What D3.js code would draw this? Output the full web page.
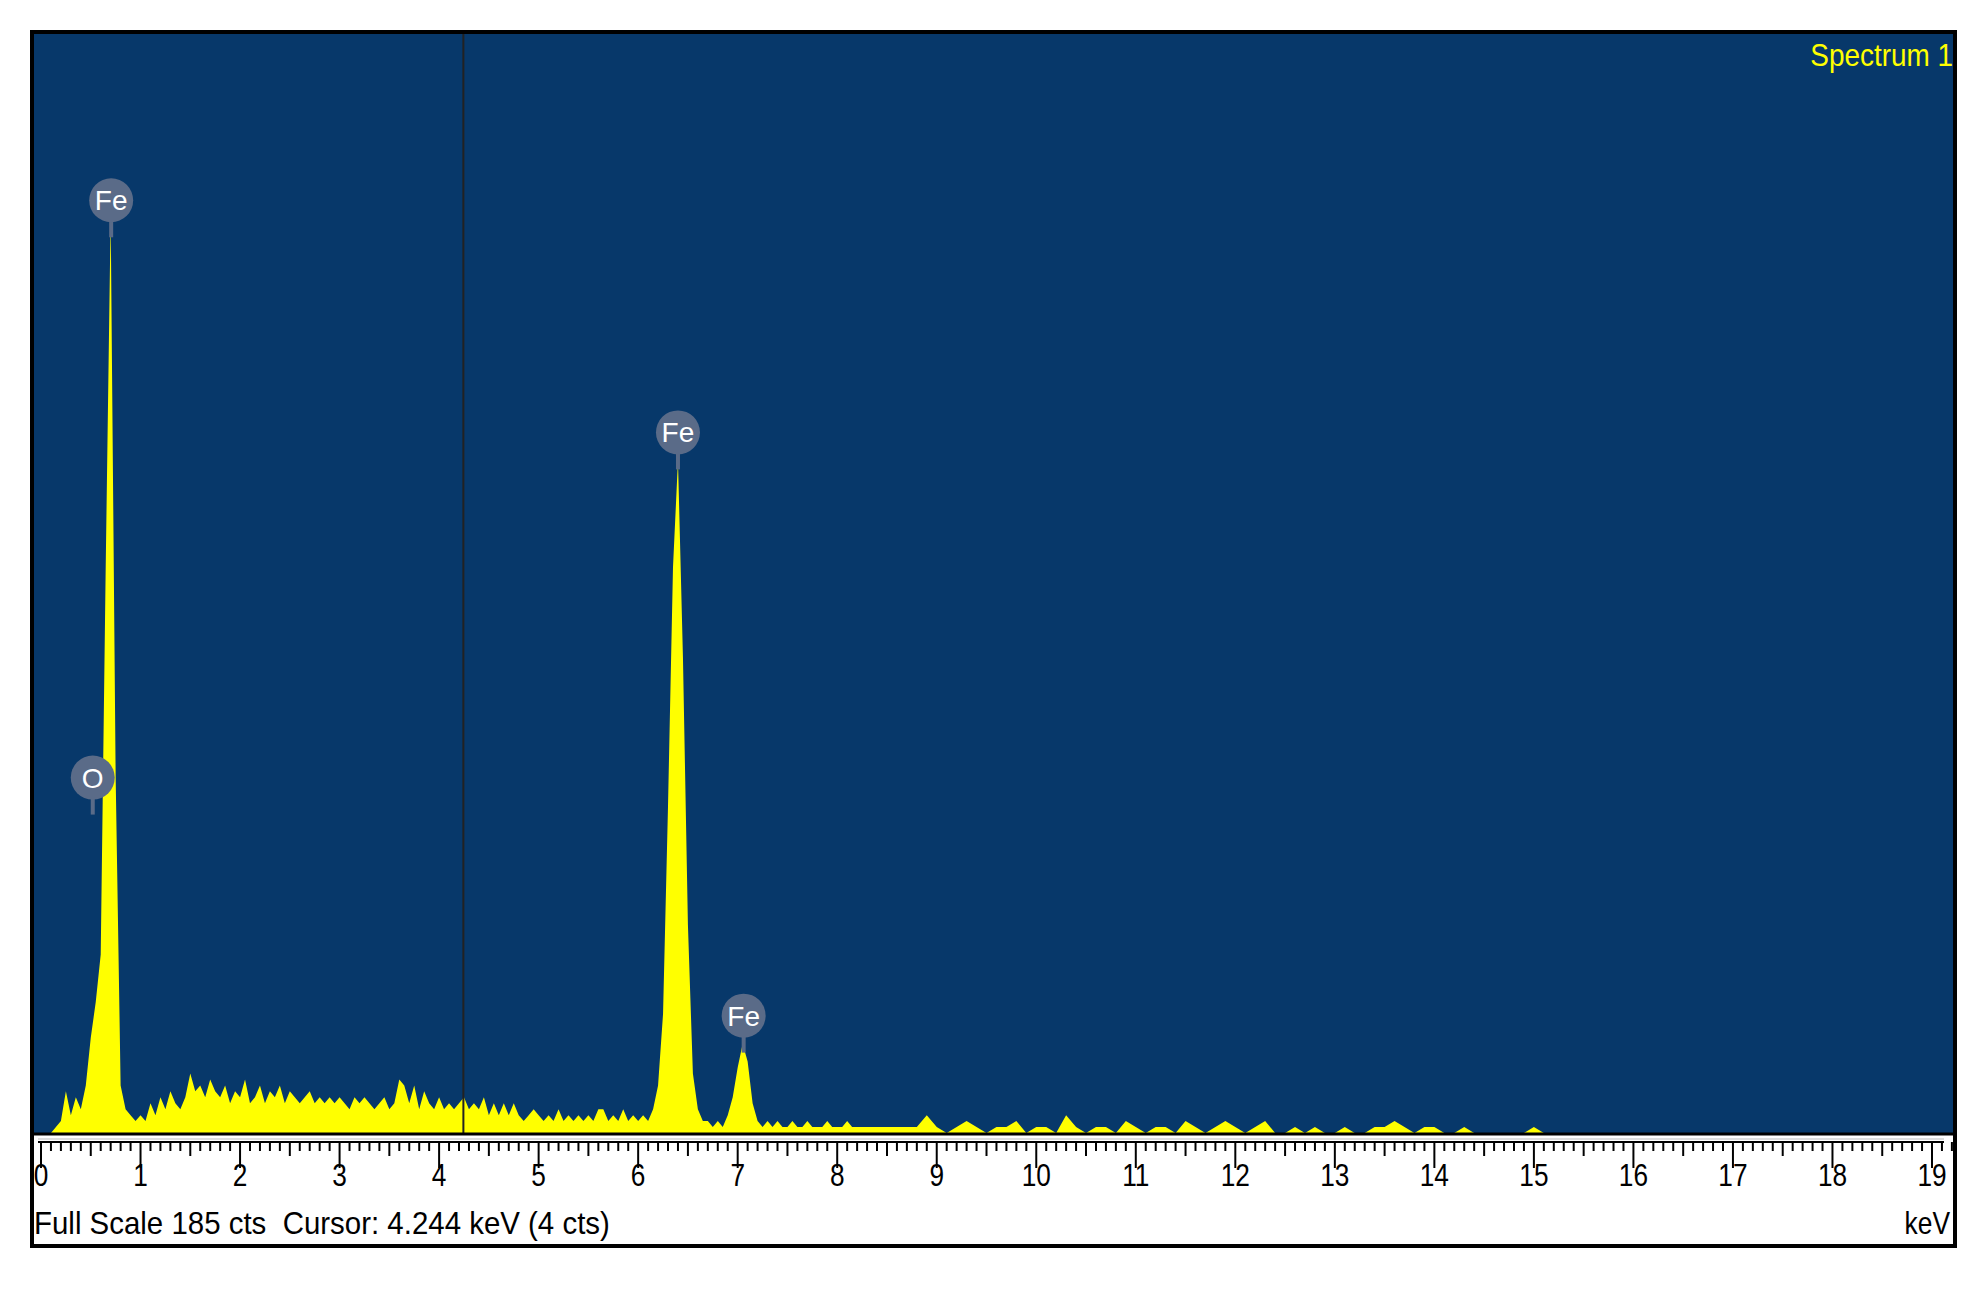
<!DOCTYPE html>
<html><head><meta charset="utf-8">
<script src="https://cdn.jsdelivr.net/npm/d3@7"></script>
<style>body{margin:0;background:#fff}</style></head>
<body><svg id="c" width="1986" height="1291"></svg>
<script>
// counts at 0.05 keV steps from 0.00 to 8.50
const lowStep = 0.05;
const lowCounts = [0,0,0,1,2,7,3,6,4,8, 16,22,30,95,154,60,8,4,3,2,
3,2,5,3,6,4,7,5,4,6, 10,7,8,6,9,7,6,8,5,7,
6,9,5,6,8,5,7,6,8,5, 7,6,5,6,7,5,6,5,6,5,
6,5,4,6,5,6,5,4,5,6, 4,5,9,8,5,8,4,7,5,4,
6,4,5,4,5,6,4,5,4,6, 3,5,3,5,3,5,3,2,3,4,
3,2,3,2,4,2,3,2,3,2, 3,2,4,4,2,3,2,4,2,3,
2,3,2,4,8,20,55,95,113,80, 35,10,4,2,2,1,2,1,3,6,
11,15,12,5,2,1,2,1,2,1, 1,2,1,1,2,1,1,1,2,1,
1,1,2,1,1,1];
// counts at 0.1 keV steps from 8.6 to 15.2
const highStart = 8.6, highStep = 0.1;
const highCounts = [1,1,1,3,1,0,1,2,1,0, 1,1,2,0,1,1,0,3,1,0,
1,1,0,2,1,0,1,1,0,2, 1,0,1,2,1,0,1,2,0,0, 1,0,1,0,0,1,0,0,1,1,
2,1,0,1,1,0,0,1,0,0, 0,0,0,0,1,0,0];
const fullScale = 185;
const cursorKeV = 4.244;
const xTicks = d3.range(0,20);
const peaks = [{el:"Fe",e:0.705,y:150},{el:"O",e:0.52,y:53},{el:"Fe",e:6.40,y:111},{el:"Fe",e:7.06,y:13}];

const data = lowCounts.map((c,i)=>({e:i*lowStep,c}))
  .concat(highCounts.map((c,i)=>({e:highStart+i*highStep,c})));

const svg = d3.select("#c");
const L=32,T=32,R=1955,B=1246, base=1133;
const x = d3.scaleLinear().domain([0,19]).range([41,1932]);
const y = d3.scaleLinear().domain([0,fullScale]).range([base,T]);

svg.append("rect").attr("x",L).attr("y",T).attr("width",R-L).attr("height",B-T).attr("fill","#fff");
svg.append("rect").attr("x",L).attr("y",T).attr("width",R-L).attr("height",base-T).attr("fill","#07386a");
svg.append("path").datum(data).attr("fill","#ffff00")
  .attr("d",d3.area().x(d=>x(d.e)).y0(base).y1(d=>y(d.c)));
svg.append("line").attr("x1",x(cursorKeV)).attr("x2",x(cursorKeV)).attr("y1",T).attr("y2",base)
  .attr("stroke","#222").attr("stroke-width",2);
svg.append("line").attr("x1",L).attr("x2",R).attr("y1",base+1).attr("y2",base+1).attr("stroke","#000").attr("stroke-width",3);

// axis
const ax = svg.append("g").attr("transform",`translate(0,${base+9})`);
ax.append("line").attr("x1",38).attr("x2",1944).attr("y1",0).attr("y2",0).attr("stroke","#000").attr("stroke-width",2);
ax.append("line").attr("x1",38).attr("x2",1944).attr("y1",-3).attr("y2",-3).attr("stroke","#bbb").attr("stroke-width",1);
const minor = d3.range(0,19.21,0.1);
ax.selectAll(".mn").data(minor).join("line")
  .attr("x1",d=>x(d)).attr("x2",d=>x(d)).attr("y1",0)
  .attr("y2",d=>{const r=Math.round(d*10)%10; return r===0?26:(r===5?14:9);})
  .attr("stroke","#000").attr("stroke-width",2);
const font="'Liberation Sans Narrow','Liberation Sans',Arial,sans-serif";
ax.selectAll(".tl").data(xTicks).join("text")
  .attr("transform",d=>`translate(${x(d)},44) scale(0.82,1)`).attr("text-anchor","middle")
  .attr("font-family",font).attr("font-size",32).text(d=>d);

svg.append("text").attr("transform","translate(34,1234) scale(0.95,1)").attr("font-family",font).attr("font-size",31)
  .attr("xml:space","preserve").style("white-space","pre")
  .text("Full Scale "+fullScale+" cts  Cursor: "+cursorKeV.toFixed(3)+" keV (4 cts)");
svg.append("text").attr("transform","translate(1950,1234) scale(0.85,1)").attr("text-anchor","end").attr("font-family",font).attr("font-size",31).text("keV");
svg.append("text").attr("transform","translate(1953,66) scale(0.9,1)").attr("text-anchor","end").attr("font-family",font).attr("font-size",31).attr("fill","#ffff00").text("Spectrum 1");

const pg = svg.selectAll(".pk").data(peaks).join("g")
  .attr("transform",d=>`translate(${x(d.e)},${y(d.y)-40})`);
pg.append("rect").attr("x",-2).attr("y",15).attr("width",4).attr("height",22).attr("fill","#5a6b88");
pg.append("circle").attr("r",22).attr("fill","#5a6b88");
pg.append("text").attr("y",10).attr("text-anchor","middle").attr("fill","#fff")
  .attr("font-family",font).attr("font-size",28).text(d=>d.el);

svg.append("rect").attr("x",L).attr("y",T).attr("width",R-L).attr("height",B-T).attr("fill","none").attr("stroke","#000").attr("stroke-width",4);
</script></body></html>
